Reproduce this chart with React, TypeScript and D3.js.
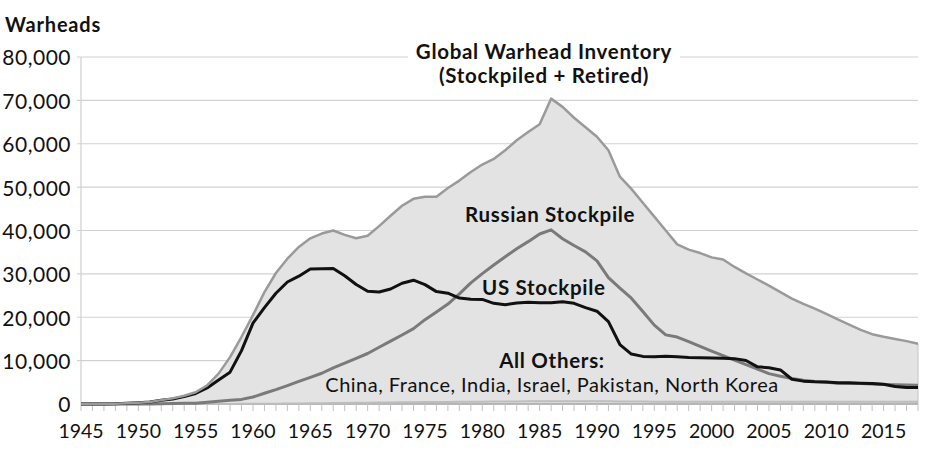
import * as d3 from "d3";
import { useEffect, useRef } from "react";

const years = d3.range(1945, 2019);

const globalInventory = [
  2, 9, 13, 50, 170, 300, 460, 890, 1300, 1900,
  2700, 4300, 7000, 10800, 15500, 20500, 25800, 30200, 33500, 36200,
  38200, 39300, 40000, 39000, 38200, 38800, 41000, 43400, 45700, 47300,
  47800, 47800, 49800, 51500, 53500, 55200, 56500, 58500, 60800, 62700,
  64500, 70400, 68500, 66000, 63800, 61600, 58500, 52400, 49600, 46400,
  43200, 40000, 36800, 35600, 34800, 33800, 33300, 31600, 30100, 28700,
  27300, 25800, 24300, 23100, 22000, 20800, 19500, 18300, 17100, 16100,
  15500, 15000, 14500, 13900,
];

const russianStockpile = [
  0, 0, 0, 0, 1, 5, 25, 50, 120, 150,
  200, 426, 660, 869, 1060, 1605, 2471, 3322, 4238, 5221,
  6129, 7089, 8339, 9399, 10538, 11643, 13092, 14478, 15915, 17385,
  19443, 21205, 23044, 25393, 27935, 30062, 32049, 33952, 35804, 37431,
  39197, 40159, 38107, 36538, 35078, 32980, 29154, 26734, 24403, 21339,
  18179, 15942, 15442, 14368, 13289, 12188, 11152, 10114, 9076, 8038,
  7000, 6400, 5900, 5500, 5200, 5000, 4800, 4750, 4700, 4600,
  4500, 4450, 4400, 4350,
];

const usStockpile = [
  2, 9, 13, 50, 170, 299, 438, 841, 1169, 1703,
  2422, 3692, 5543, 7345, 12298, 18638, 22229, 25540, 28133, 29463,
  31139, 31175, 31255, 29561, 27552, 26008, 25830, 26516, 27835, 28537,
  27519, 25914, 25542, 24418, 24138, 24104, 23208, 22886, 23305, 23459,
  23368, 23317, 23575, 23205, 22217, 21392, 19008, 13708, 11511, 10979,
  10904, 11011, 10903, 10732, 10685, 10577, 10526, 10457, 10027, 8570,
  8360, 7853, 5709, 5273, 5113, 5066, 4897, 4881, 4804, 4717,
  4571, 4018, 3822, 3800,
];

const allOthers = [
  0, 0, 0, 0, 0, 0, 0, 0, 1, 5,
  10, 15, 20, 25, 30, 40, 60, 80, 100, 130,
  160, 190, 220, 250, 280, 310, 340, 370, 400, 420,
  440, 460, 480, 500, 520, 540, 560, 580, 600, 620,
  640, 650, 660, 660, 650, 640, 620, 600, 580, 560,
  540, 530, 520, 520, 520, 520, 520, 520, 520, 520,
  520, 520, 520, 520, 520, 520, 520, 520, 520, 520,
  520, 520, 520, 520,
];

const yTicks = [0, 10000, 20000, 30000, 40000, 50000, 60000, 70000, 80000];
const xLabelYears = [1945, 1950, 1955, 1960, 1965, 1970, 1975, 1980, 1985, 1990, 1995, 2000, 2005, 2010, 2015];

const FONT = "Lato, 'Noto Sans', sans-serif";

export default function App() {
  const ref = useRef<SVGSVGElement>(null);

  useEffect(() => {
    if (!ref.current) return;
    const svg = d3.select(ref.current);
    svg.selectAll("*").remove();

    const width = 950;
    const height = 454;
    svg.attr("width", width).attr("height", height);

    const x = d3.scaleLinear().domain([1945, 2018]).range([81, 918]);
    const y = d3.scaleLinear().domain([0, 80000]).range([404, 57]);

    // gridlines
    svg
      .append("g")
      .selectAll("line")
      .data(yTicks.filter((d) => d > 0))
      .join("line")
      .attr("x1", 77)
      .attr("x2", x(2018))
      .attr("y1", (d) => y(d))
      .attr("y2", (d) => y(d))
      .attr("stroke", "#d2d2d2")
      .attr("stroke-width", 1.2);

    // y axis line
    svg
      .append("line")
      .attr("x1", x(1945))
      .attr("x2", x(1945))
      .attr("y1", y(80000))
      .attr("y2", y(0))
      .attr("stroke", "#cfcfcf")
      .attr("stroke-width", 1.2);

    const area = d3
      .area<number>()
      .x((_, i) => x(years[i]))
      .y0(y(0))
      .y1((d) => y(d));

    svg
      .append("path")
      .datum(globalInventory)
      .attr("d", area)
      .attr("fill", "#e3e3e3")
      .attr("stroke", "#c4c4c4")
      .attr("stroke-width", 1);

    const line = d3
      .line<number>()
      .x((_, i) => x(years[i]))
      .y((d) => y(d));

    // x axis line and yearly ticks
    svg
      .append("line")
      .attr("x1", x(1945))
      .attr("x2", x(2018))
      .attr("y1", y(0))
      .attr("y2", y(0))
      .attr("stroke", "#a8a8a8")
      .attr("stroke-width", 1.5);

    svg
      .append("g")
      .selectAll("line")
      .data(years)
      .join("line")
      .attr("x1", (d) => x(d))
      .attr("x2", (d) => x(d))
      .attr("y1", y(0))
      .attr("y2", y(0) + 7)
      .attr("stroke", "#c2c2c2")
      .attr("stroke-width", 1);

    const series: [number[], string, number][] = [
      [allOthers, "#bdbdbd", 2],
      [russianStockpile, "#7a7a7a", 3],
      [usStockpile, "#111111", 3],
      [globalInventory, "#9a9a9a", 2.5],
    ];

    series.forEach(([values, color, w]) => {
      svg
        .append("path")
        .datum(values)
        .attr("d", line)
        .attr("fill", "none")
        .attr("stroke", color)
        .attr("stroke-width", w)
        .attr("stroke-linejoin", "round");
    });

    // y tick labels
    svg
      .append("g")
      .selectAll("text")
      .data(yTicks)
      .join("text")
      .attr("x", 71)
      .attr("y", (d) => y(d))
      .attr("dy", "0.4em")
      .attr("text-anchor", "end")
      .attr("font-family", FONT)
      .attr("font-size", 21)
      .attr("letter-spacing", 0.5)
      .attr("fill", "#111")
      .text((d) => d3.format(",")(d));

    // x tick labels
    svg
      .append("g")
      .selectAll("text")
      .data(xLabelYears)
      .join("text")
      .attr("x", (d) => x(d))
      .attr("y", 438)
      .attr("text-anchor", "middle")
      .attr("font-family", FONT)
      .attr("font-size", 19.5)
      .attr("fill", "#111")
      .text((d) => d);

    svg
      .append("text")
      .attr("x", 5)
      .attr("y", 32)
      .attr("font-family", FONT)
      .attr("font-weight", 700)
      .attr("font-size", 20)
      .attr("letter-spacing", 0.8)
      .attr("fill", "#111")
      .text("Warheads");

    // global label with white backing over the gridline
    svg
      .append("rect")
      .attr("x", 408)
      .attr("y", 40)
      .attr("width", 272)
      .attr("height", 49)
      .attr("fill", "#fff");

    const bold = (t: string, px: number, py: number, anchor = "middle") =>
      svg
        .append("text")
        .attr("x", px)
        .attr("y", py)
        .attr("text-anchor", anchor)
        .attr("font-family", FONT)
        .attr("font-weight", 700)
        .attr("font-size", 20.5)
        .attr("letter-spacing", 0.7)
        .attr("fill", "#111")
        .text(t);

    bold("Global Warhead Inventory", 544, 59);
    bold("(Stockpiled + Retired)", 544, 83);
    bold("Russian Stockpile", 465, 222, "start");
    bold("US Stockpile", 482, 295, "start");
    bold("All Others:", 552, 368);

    svg
      .append("text")
      .attr("x", 552)
      .attr("y", 392)
      .attr("text-anchor", "middle")
      .attr("font-family", FONT)
      .attr("font-size", 20)
      .attr("letter-spacing", 0.5)
      .attr("fill", "#111")
      .text("China, France, India, Israel, Pakistan, North Korea");
  }, []);

  return <svg ref={ref} style={{ position: "absolute", left: 0, top: 0 }} />;
}
